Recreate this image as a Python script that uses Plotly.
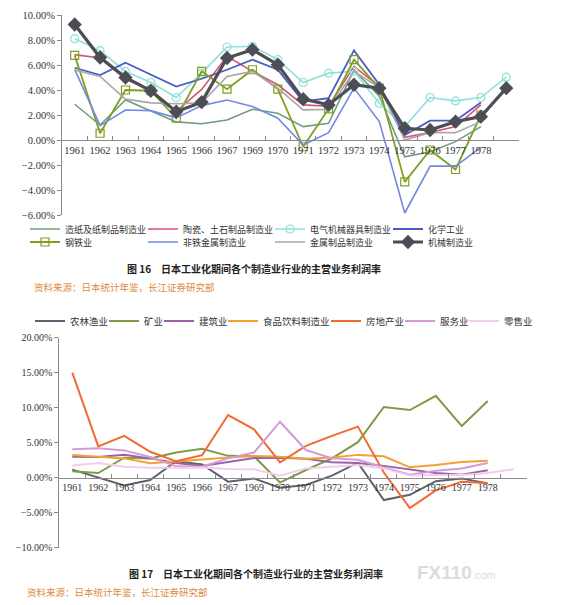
import plotly.graph_objects as go

# The page body has an 8px default margin, so the figure is drawn at (8, 8)
# inside the 561x605 window; positions below are given in window pixels.
PAGE_W, PAGE_H, OFF = 561, 605, 8
W, H = PAGE_W - OFF, PAGE_H - OFF


def fx(x):
    return (x - OFF) / W


def fy(y):
    return 1 - (y - OFF) / H


# ---------------- data ----------------
categories = ["1961", "1962", "1963", "1964", "1965", "1966", "1967", "1969", "1970",
              "1971", "1972", "1973", "1974", "1975", "1976", "1977", "1978", " "]

# Figure 16 (%)
paper = [2.86, 1.2, 3.2, 2.3, 1.45, 1.3, 1.6, 2.46, 2.14, 1.07, 1.34, 5.6, 3.5, -1.34, -0.94, -0.13, 1.07, None]
ceramic = [6.83, 6.56, 4.85, 4.0, 2.3, 4.05, 6.69, 5.49, 4.42, 2.81, 2.7, 5.89, 4.3, 0.21, 0.6, 1.07, 2.81, None]
electric = [8.11, 7.15, 5.49, 4.6, 3.4, 5.35, 7.44, 7.5, 6.43, 4.6, 5.35, 5.5, 2.94, 1.07, 3.4, 3.13, 3.4, 5.03]
chemical = [5.78, 5.2, 6.18, 5.2, 4.28, 4.9, 5.62, 6.43, 5.62, 3.08, 3.35, 7.17, 4.42, 0.4, 1.55, 1.55, 3.0, None]
steel = [6.77, 0.54, 4.0, 3.94, 1.74, 5.49, 4.07, 5.62, 4.07, -0.54, 2.49, 6.43, 4.15, -3.35, -0.8, -2.36, 2.0, None]
nonferrous = [5.65, 1.15, 2.4, 2.35, 1.77, 2.75, 3.2, 2.68, 1.74, -0.4, 0.59, 4.15, 1.47, -5.84, -2.09, -2.09, -0.59, None]
metal = [5.6, 5.08, 3.27, 2.97, 2.9, 2.97, 5.08, 5.49, 4.15, 2.41, 2.45, 5.49, 4.2, 0.0, 0.59, 0.59, 1.47, None]
machine = [9.24, 6.6, 5.0, 3.94, 2.27, 3.03, 6.56, 7.23, 6.02, 3.27, 2.81, 4.42, 4.15, 0.94, 0.8, 1.47, 1.87, 4.15]

# Figure 17 (%)
agri = [1.15, 0.0, -1.1, -0.33, 2.35, 1.9, -0.57, -0.1, -1.45, -1.05, 0.29, 2.14, -3.19, -2.45, -0.5, -0.1, -0.81, None]
mining = [0.93, 0.67, 2.86, 2.76, 3.6, 4.12, 3.12, 3.05, -0.69, 1.1, 2.76, 5.07, 10.1, 9.67, 11.7, 7.38, 10.95, None]
construction = [3.0, 2.95, 3.28, 2.76, 2.1, 1.69, 2.24, 2.81, 2.86, 2.7, 2.2, 2.1, 1.69, 1.2, 0.67, 0.43, 1.05, None]
food = [3.24, 3.0, 2.76, 2.05, 2.29, 2.61, 2.88, 3.1, 3.0, 2.7, 2.88, 3.26, 3.05, 1.48, 1.81, 2.24, 2.43, None]
realestate = [15.0, 4.48, 5.98, 3.7, 2.34, 3.22, 8.95, 6.9, 2.2, 4.55, 5.98, 7.3, 0.74, -4.35, -1.81, -0.57, -0.81, None]
services = [4.05, 4.2, 3.9, 2.95, 1.62, 1.57, 2.76, 3.6, 8.0, 3.95, 2.76, 2.57, 1.45, 0.43, 0.98, 1.33, 2.1, None]
retail = [1.76, 2.1, 1.57, 1.43, 1.43, 1.45, 1.26, 1.22, 0.27, 1.33, 1.55, 1.8, 1.33, 0.3, 0.39, 0.39, 0.66, 1.2]

top_names = ["造纸及纸制品制造业", "陶瓷、土石制品制造业", "电气机械器具制造业", "化学工业",
             "钢铁业", "非铁金属制造业", "金属制品制造业", "机械制造业"]
bottom_names = ["农林渔业", "矿业", "建筑业", "食品饮料制造业", "房地产业", "服务业", "零售业"]

caption16 = "<b>图 16　日本工业化期间各个制造业行业的主营业务利润率</b>"
caption17 = "<b>图 17　日本工业化期间各个制造业行业的主营业务利润率</b>"
source_text = "资料来源：日本统计年鉴，长江证券研究部"

# ---------------- styling ----------------
SERIF = "Liberation Serif, Noto Sans CJK SC, serif"
CJK = "Noto Sans CJK SC, sans-serif"

top_styles = [
    dict(color="#6f9c82", width=1.6),
    dict(color="#d9536f", width=1.6),
    dict(color="#8fe0d8", width=1.6, marker=dict(symbol="circle-open", size=8, line=dict(width=1.2))),
    dict(color="#4b5bc4", width=1.8),
    dict(color="#7f9f22", width=1.8, marker=dict(symbol="square-open", size=8, line=dict(width=1.2))),
    dict(color="#7488e2", width=1.6),
    dict(color="#a8a8a8", width=1.6),
    dict(color="#4d4d55", width=3.2, marker=dict(symbol="diamond", size=11)),
]
top_values = [paper, ceramic, electric, chemical, steel, nonferrous, metal, machine]

bottom_styles = [
    dict(color="#60606e", width=2),
    dict(color="#7d9c45", width=2),
    dict(color="#9a62a8", width=2),
    dict(color="#f5a030", width=2),
    dict(color="#f26a30", width=2),
    dict(color="#d49ad8", width=2),
    dict(color="#f2cdec", width=2),
]
bottom_values = [agri, mining, construction, food, realestate, services, retail]

# legend item origins (window px) – top grid 4x2, bottom single row
top_leg_x = [25, 143, 270, 388]
top_leg_y = [229, 242]
bottom_leg_x = [30, 104, 159, 223, 326, 400, 464]
bottom_leg_y = 321

fig = go.Figure()
legend_layouts = {}
k = 0

for i, (name, vals, st) in enumerate(zip(top_names, top_values, top_styles)):
    k += 1
    lk = "legend" if k == 1 else f"legend{k}"
    mk = st.get("marker")
    fig.add_trace(go.Scatter(
        x=categories, y=vals, name=name, xaxis="x", yaxis="y",
        mode="lines+markers" if mk else "lines",
        line=dict(color=st["color"], width=st["width"]),
        marker=(dict(color=st["color"], **mk) if mk else None),
        legend=lk, connectgaps=False, hoverinfo="skip",
    ))
    legend_layouts[lk] = dict(
        x=fx(top_leg_x[i % 4]), y=fy(top_leg_y[i // 4]), xanchor="left", yanchor="middle",
        orientation="h", bgcolor="rgba(0,0,0,0)", borderwidth=0, itemwidth=30,
        font=dict(family=CJK, size=9, color="#333333"),
    )

for i, (name, vals, st) in enumerate(zip(bottom_names, bottom_values, bottom_styles)):
    k += 1
    lk = f"legend{k}"
    fig.add_trace(go.Scatter(
        x=categories, y=vals, name=name, xaxis="x2", yaxis="y2", mode="lines",
        line=dict(color=st["color"], width=st["width"]),
        legend=lk, connectgaps=False, hoverinfo="skip",
    ))
    legend_layouts[lk] = dict(
        x=fx(bottom_leg_x[i]), y=fy(bottom_leg_y), xanchor="left", yanchor="middle",
        orientation="h", bgcolor="rgba(0,0,0,0)", borderwidth=0, itemwidth=30,
        font=dict(family=CJK, size=9.5, color="#333333"),
    )

AX = "#8a8a8a"
common_x = dict(type="category", categoryorder="array", categoryarray=categories,
                range=[-0.5, len(categories) - 0.5], showline=True, linecolor=AX, linewidth=1,
                ticks="inside", tickson="boundaries", ticklen=4, tickcolor=AX, tickangle=0,
                showgrid=False, zeroline=False, anchor="free", fixedrange=True, automargin=False)
common_y = dict(showline=True, linecolor=AX, linewidth=1, ticks="outside", ticklen=4,
                tickcolor=AX, showgrid=False, zeroline=False, ticksuffix="%", tickformat=".2f",
                fixedrange=True, automargin=False)

fig.update_layout(
    width=W, height=H, margin=dict(l=0, r=0, t=0, b=0, autoexpand=False),
    paper_bgcolor="white", plot_bgcolor="white", showlegend=True,
    xaxis=dict(**common_x, domain=[fx(62), fx(519)], position=fy(140),
               tickfont=dict(family=SERIF, size=10.5, color="#333")),
    yaxis=dict(**common_y, domain=[fy(215), fy(15)], range=[-6, 10], dtick=2, anchor="x",
               tickfont=dict(family=SERIF, size=10.5, color="#333")),
    xaxis2=dict(**common_x, domain=[fx(59.3), fx(526.7)], position=fy(477.7),
                tickfont=dict(family=SERIF, size=10, color="#333")),
    yaxis2=dict(**common_y, domain=[fy(547.7), fy(337.7)], range=[-10, 20], dtick=5, anchor="x2",
                tickfont=dict(family=SERIF, size=10, color="#333")),
    **legend_layouts,
)

ann = [
    dict(text=caption16, x=fx(254), y=fy(268), xanchor="center", yanchor="middle",
         font=dict(family=CJK, size=10, color="#222")),
    dict(text=source_text, x=fx(32), y=fy(287), xanchor="left", yanchor="middle",
         font=dict(family=CJK, size=9.5, color="#e08a3c")),
    dict(text=caption17, x=fx(256), y=fy(573), xanchor="center", yanchor="middle",
         font=dict(family=CJK, size=10, color="#222")),
    dict(text=source_text, x=fx(25), y=fy(592), xanchor="left", yanchor="middle",
         font=dict(family=CJK, size=9.5, color="#e08a3c")),
    dict(text="<b>FX110</b><span style='font-size:11px'>.com</span>", x=fx(415), y=fy(572),
         xanchor="left", yanchor="middle",
         font=dict(family="Liberation Sans, sans-serif", size=19, color="#dcdcdc")),
]
for a in ann:
    a.update(xref="paper", yref="paper", showarrow=False)
fig.update_layout(annotations=ann)

fig.write_html("out.html")
